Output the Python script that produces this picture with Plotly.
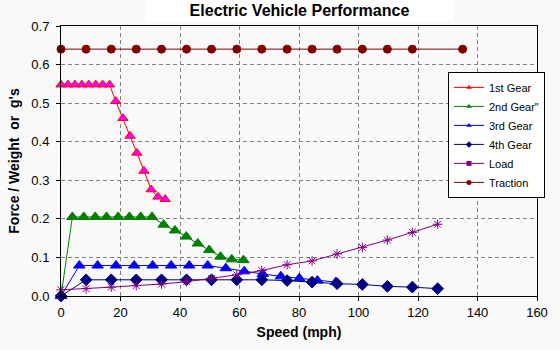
import plotly.graph_objects as go

# ---- data ----
gear1_x = [0, 2.33, 4.67, 7.0, 9.33, 11.67, 14.0, 16.33, 18.4, 20.8, 23.2, 25.5, 27.9, 30.3, 32.6, 35.0]
gear1_y = [0.548, 0.548, 0.548, 0.548, 0.548, 0.548, 0.548, 0.548, 0.505, 0.461, 0.415, 0.371, 0.324, 0.276, 0.257, 0.251]

gear2_x = [0, 3.83, 7.66, 11.5, 15.3, 19.2, 23.0, 26.8, 30.6, 34.5, 38.3, 42.1, 46.0, 49.8, 53.6, 57.4, 61.3]
gear2_y = [0.0, 0.205, 0.205, 0.205, 0.205, 0.205, 0.205, 0.205, 0.205, 0.185, 0.170, 0.154, 0.136, 0.119, 0.102, 0.095, 0.093]

gear3_x = [0, 6.16, 12.3, 18.5, 24.6, 30.8, 37.0, 43.1, 49.3, 55.4, 61.6, 67.8, 73.9, 80.1, 86.2, 92.4]
gear3_y = [0.0, 0.079, 0.079, 0.079, 0.079, 0.079, 0.079, 0.079, 0.079, 0.072, 0.064, 0.057, 0.051, 0.046, 0.040, 0.036]

gear4_x = [0, 8.44, 16.9, 25.3, 33.8, 42.2, 50.6, 59.1, 67.5, 76.0, 84.4, 92.8, 101.3, 109.7, 118.1, 126.6]
gear4_y = [0.0, 0.042, 0.042, 0.042, 0.042, 0.042, 0.042, 0.042, 0.042, 0.040, 0.036, 0.032, 0.030, 0.025, 0.023, 0.019]

load_x = [0, 8.44, 16.9, 25.3, 33.8, 42.2, 50.6, 59.1, 67.5, 76.0, 84.4, 92.8, 101.3, 109.7, 118.1, 126.6]
load_y = [0.016, 0.019, 0.023, 0.027, 0.031, 0.037, 0.045, 0.055, 0.066, 0.081, 0.091, 0.109, 0.126, 0.145, 0.165, 0.186]

traction_x = [0, 8.44, 16.9, 25.3, 33.8, 42.2, 50.6, 59.1, 67.5, 76.0, 84.4, 92.8, 101.3, 109.7, 118.1, 135.0]
traction_y = [0.64, 0.64, 0.64, 0.64, 0.64, 0.64, 0.64, 0.64, 0.64, 0.64, 0.64, 0.64, 0.64, 0.64, 0.64, 0.64]

series_names = ["1st Gear", "2nd Gear\"", "3rd Gear", "4th Gear", "Load", "Traction"]
x_ticks = [0, 20, 40, 60, 80, 100, 120, 140, 160]
y_ticks = [0.0, 0.1, 0.2, 0.3, 0.4, 0.5, 0.6, 0.7]

FONT = "Liberation Sans, Arial, sans-serif"

styles = [
    dict(line="#FF0000", symbol="triangle-up", fill="#FF00FF", edge="#FF0000", size=9),
    dict(line="#008000", symbol="triangle-up", fill="#008000", edge="#008000", size=10),
    dict(line="#0000FF", symbol="triangle-up", fill="#0000FF", edge="#0000FF", size=10),
    dict(line="#000080", symbol="diamond", fill="#000080", edge="#000080", size=9),
    dict(line="#800080", symbol="asterisk-open", fill="#800080", edge="#800080", size=8),
    dict(line="#800000", symbol="circle", fill="#800000", edge="#800000", size=8),
]
data = [(gear1_x, gear1_y), (gear2_x, gear2_y), (gear3_x, gear3_y),
        (gear4_x, gear4_y), (load_x, load_y), (traction_x, traction_y)]

fig = go.Figure()
for (xs, ys), name, st in zip(data, series_names, styles):
    fig.add_trace(go.Scatter(
        x=xs, y=ys, mode="lines+markers", name=name, showlegend=False,
        cliponaxis=False,
        line=dict(color=st["line"], width=1),
        marker=dict(symbol=st["symbol"], size=st["size"], color=st["fill"],
                    line=dict(color=st["edge"], width=1)),
    ))
# legend entries with small markers
for name, st in zip(series_names, styles):
    fig.add_trace(go.Scatter(
        x=[None], y=[None], mode="lines+markers", name=name,
        line=dict(color=st["line"], width=1),
        marker=dict(symbol=st["symbol"] if st["symbol"] != "asterisk-open" else "square",
                    size=5, color=st["line"], line=dict(color=st["line"], width=0)),
    ))

axis_common = dict(
    showline=True, linecolor="black", linewidth=1, mirror=True,
    ticks="outside", ticklen=4, tickcolor="black",
    showgrid=True, gridcolor="#808080", gridwidth=1, griddash="4px,3px",
    zeroline=False, tickfont=dict(family=FONT, size=13, color="black"),
)

fig.update_xaxes(range=[0, 160], tickvals=x_ticks,
                 title=dict(text="<b>Speed (mph)</b>", font=dict(family=FONT, size=14, color="black"), standoff=8),
                 **axis_common)
fig.update_yaxes(range=[0, 0.7], tickvals=y_ticks, tickformat=".1f", ticklabelstandoff=4,
                 title=dict(text="<b>Force / Weight\u00a0 or\u00a0 g's</b>", font=dict(family=FONT, size=14, color="black"), standoff=8),
                 **axis_common)

fig.add_annotation(
    text="<b>Electric Vehicle Performance</b>", xref="paper", yref="paper",
    x=0.5, y=1, yanchor="middle", yshift=16, showarrow=False,
    font=dict(family=FONT, size=16, color="black"),
    bgcolor="white", width=305, height=20,
)

fig.update_layout(
    width=560, height=350,
    margin=dict(l=61, r=23, t=26, b=54),
    paper_bgcolor="#F9F9F9", plot_bgcolor="#F9F9F9",
    legend=dict(x=0.813, y=0.83, xanchor="left", yanchor="top",
                bgcolor="white", bordercolor="black", borderwidth=1,
                font=dict(family=FONT, size=11, color="black"),
                tracegroupgap=0, itemwidth=30),
    font=dict(family=FONT),
)

fig.write_html("out.html")
